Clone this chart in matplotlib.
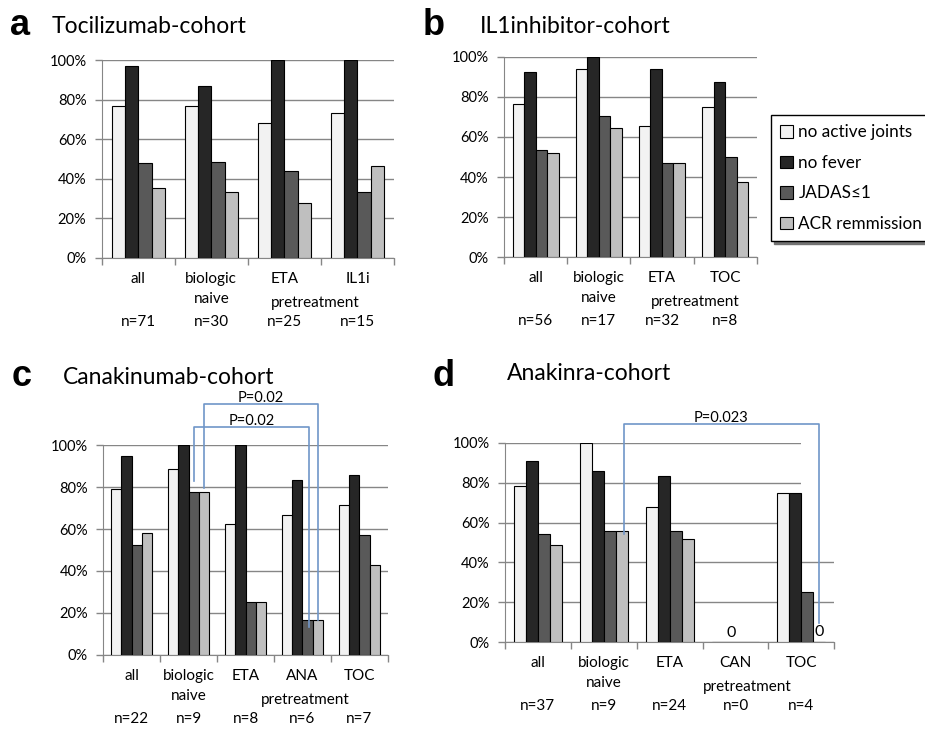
import numpy as np
import matplotlib.pyplot as plt
from matplotlib.patches import Patch, Rectangle

W, H = 925, 729
FONT = ['Lato', 'DejaVu Sans']
plt.rcParams['font.family'] = FONT

# series shared by all four panels
series = ['no active joints', 'no fever', 'JADAS≤1', 'ACR remmission']
colors = ['#f2f2f2', '#262626', '#595959', '#bfbfbf']

# a: Tocilizumab-cohort
cats_a = ['all', 'biologic\nnaive', 'ETA', 'IL1i']
n_a = ['n=71', 'n=30', 'n=25', 'n=15']
vals_a = [[77.0, 77.0, 68.0, 73.3],
          [97.2, 87.0, 100.0, 100.0],
          [47.8, 48.5, 44.0, 33.3],
          [35.2, 33.3, 28.0, 46.7]]

# b: IL1inhibitor-cohort
cats_b = ['all', 'biologic\nnaive', 'ETA', 'TOC']
n_b = ['n=56', 'n=17', 'n=32', 'n=8']
vals_b = [[76.6, 94.1, 65.6, 75.0],
          [92.6, 100.0, 93.8, 87.5],
          [53.4, 70.6, 46.9, 50.0],
          [51.8, 64.7, 46.9, 37.5]]

# c: Canakinumab-cohort
cats_c = ['all', 'biologic\nnaive', 'ETA', 'ANA', 'TOC']
n_c = ['n=22', 'n=9', 'n=8', 'n=6', 'n=7']
vals_c = [[78.9, 88.9, 62.5, 66.7, 71.4],
          [94.7, 100.0, 100.0, 83.3, 85.7],
          [52.6, 77.8, 25.0, 16.7, 57.1],
          [57.9, 77.8, 25.0, 16.7, 42.9]]

# d: Anakinra-cohort
cats_d = ['all', 'biologic\nnaive', 'ETA', 'CAN', 'TOC']
n_d = ['n=37', 'n=9', 'n=24', 'n=0', 'n=4']
vals_d = [[78.5, 100.0, 68.0, 0, 75.0],
          [90.7, 85.7, 83.3, 0, 75.0],
          [54.1, 55.6, 56.0, 0, 25.0],
          [48.6, 55.6, 52.0, 0, 0]]

BW = 0.182
OFFS = (np.arange(4) - 1.5) * BW
GRID = '#868686'


def px(v):
    # pixels -> points
    return v * 72.0 / 100.0


def box(l, t, r, b):
    return [l / W, 1 - b / H, (r - l) / W, (b - t) / H]


def panel(ax, cats, ns, vals, pre_x):
    x = np.arange(len(cats))
    for i in range(4):
        ax.bar(x + OFFS[i], vals[i], BW, color=colors[i], edgecolor='black',
               linewidth=0.8, zorder=3)
    ax.set_xlim(-0.5, len(cats) - 0.5)
    ax.set_ylim(0, 100)
    ax.set_yticks(range(0, 101, 20))
    ax.set_yticklabels([f'{v}%' for v in range(0, 101, 20)], fontsize=10.5)
    ax.yaxis.grid(True, color=GRID, lw=1)
    ax.set_axisbelow(True)
    for s in ['top', 'right']:
        ax.spines[s].set_visible(False)
    for s in ['left', 'bottom']:
        ax.spines[s].set_color(GRID)
    ax.set_xticks(np.arange(len(cats) + 1) - 0.5)
    ax.set_xticklabels([])
    ax.tick_params(axis='both', color=GRID, length=5, width=1)
    ax.tick_params(axis='y', pad=6)

    tr = ('data', 'axes fraction')
    for i, c in enumerate(cats):
        for k, line in enumerate(c.split('\n')):
            ax.annotate(line, (i, 0), xycoords=tr, xytext=(0, -px(21 + 20 * k)),
                        textcoords='offset points', ha='center', va='center',
                        fontsize=11)
        ax.annotate(ns[i], (i, 0), xycoords=tr, xytext=(0, -px(64)),
                    textcoords='offset points', ha='center', va='center',
                    fontsize=11)
    ax.annotate('pretreatment', (pre_x, 0), xycoords=tr, xytext=(0, -px(45)),
                textcoords='offset points', ha='center', va='center',
                fontsize=11)


def bracket(ax, x0, x1, ytop, yl, yr, label, ylab):
    ax.plot([x0, x0, x1, x1], [yl, ytop, ytop, yr], color='#7096c8', lw=1.2,
            clip_on=False, zorder=5)
    ax.text((x0 + x1) / 2, ylab, label, ha='center', va='center',
            fontsize=10.5)


fig = plt.figure(figsize=(W / 100, H / 100), dpi=100)

ax_a = fig.add_axes(box(101.7, 60, 394, 258))
ax_b = fig.add_axes(box(504, 56.7, 756.7, 257.3))
ax_c = fig.add_axes(box(103.3, 445.3, 387.7, 654.7))
ax_d = fig.add_axes(box(505, 442.7, 834.3, 642.3))

panel(ax_a, cats_a, n_a, vals_a, 2.42)
panel(ax_b, cats_b, n_b, vals_b, 2.53)
panel(ax_c, cats_c, n_c, vals_c, 3.05)
panel(ax_d, cats_d, n_d, vals_d, 3.18)

# gridlines in d are hidden right of the TOC bars
ax_d.add_patch(Rectangle((4.0, 50), 0.5, 55, facecolor='white', edgecolor='none',
                         zorder=2, clip_on=False))

# significance brackets
bracket(ax_c, 1 + OFFS[3], 3 + OFFS[3], 119.7, 79.6, 16.6, 'P=0.02', 122.6)
bracket(ax_c, 1 + OFFS[2], 3 + OFFS[2] + 0.03, 108.6, 82.9, 13.4, 'P=0.02', 111.6)
bracket(ax_d, 1.3, 4 + OFFS[3], 109.2, 54.1, 9.5, 'P=0.023', 112.2)
ax_d.text(2.94, 4.5, '0', ha='center', va='center', fontsize=11.5)
ax_d.text(4 + OFFS[3], 5.3, '0', ha='center', va='center', fontsize=11.5)

# panel letters and titles
for letter, lx, ly, title, tx, ty in [('a', 10, 35, 'Tocilizumab-cohort', 52, 33),
                                      ('b', 423, 35, 'IL1inhibitor-cohort', 480, 33),
                                      ('c', 12, 386, 'Canakinumab-cohort', 63, 384),
                                      ('d', 432, 386, 'Anakinra-cohort', 507, 380)]:
    fig.text(lx / W, 1 - ly / H, letter, fontsize=26, fontweight='bold',
             family='Liberation Sans', va='baseline', ha='left')
    fig.text(tx / W, 1 - ty / H, title, fontsize=16.5, va='baseline', ha='left')

handles = [Patch(facecolor=c, edgecolor='black', lw=0.8) for c in colors]
fig.legend(handles, series, loc='upper left', bbox_to_anchor=(771 / W, 1 - 115 / H),
           fontsize=12.3, frameon=True, fancybox=False, edgecolor='black',
           handlelength=0.75, handleheight=0.75, handletextpad=0.3,
           labelspacing=0.85, borderpad=0.55, borderaxespad=0,
           shadow={'color': '0.45', 'alpha': 1})

fig.savefig('out.png', dpi=100)
